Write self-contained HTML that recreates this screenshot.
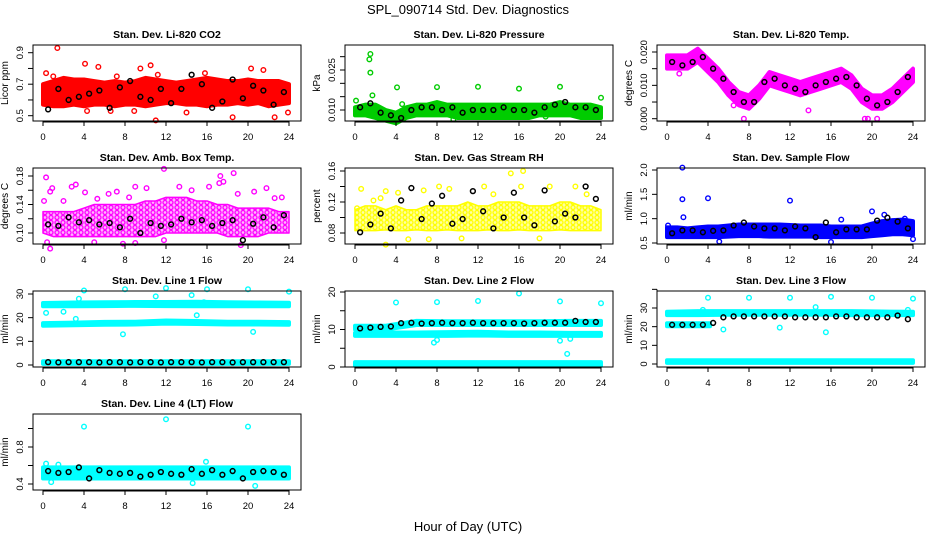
<!DOCTYPE html>
<html><head><meta charset="utf-8"><style>
html,body{margin:0;padding:0;background:#fff;}
svg{display:block;font-family:"Liberation Sans",sans-serif;}
</style></head><body>
<svg id="chart" width="936" height="540" viewBox="0 0 936 540" xmlns="http://www.w3.org/2000/svg">
<defs>
<pattern id="pat-mag" patternUnits="userSpaceOnUse" width="6" height="5"><rect width="6" height="5" fill="#ffb3ff"/><circle cx="3" cy="2.5" r="2" fill="none" stroke="#ff00ff" stroke-width="1.3"/></pattern>
<pattern id="pat-yel" patternUnits="userSpaceOnUse" width="6" height="5"><rect width="6" height="5" fill="#ffffa0"/><circle cx="3" cy="2.5" r="2" fill="none" stroke="#ffff00" stroke-width="1.3"/></pattern>
</defs>
<text x="468" y="14" font-size="13" text-anchor="middle">SPL_090714  Std. Dev. Diagnostics</text>
<text x="468" y="531" font-size="13" text-anchor="middle">Hour of Day (UTC)</text>
</svg>
<script>
// shared hour grids
const HRS = [0,1,2,3,4,5,6,7,8,9,10,11,12,13,14,15,16,17,18,19,20,21,22,23,24];
const H9 = [0,3,6,9,12,15,18,21,24];
const BX = [0.5,1.5,2.5,3.5,4.5,5.5,6.5,7.5,8.5,9.5,10.5,11.5,12.5,13.5,14.5,15.5,16.5,17.5,18.5,19.5,20.5,21.5,22.5,23.5];
const XTICKS = [0,4,8,12,16,20,24];

// CO2
const co2Lo = [0.57,0.56,0.56,0.57,0.56,0.57,0.57,0.56,0.57,0.57,0.56,0.57,0.58,0.58,0.57,0.57,0.56,0.57,0.57,0.58,0.57,0.58,0.56,0.57,0.58];
const co2Hi = [0.70,0.72,0.74,0.73,0.73,0.72,0.71,0.72,0.71,0.72,0.74,0.73,0.72,0.71,0.72,0.73,0.74,0.73,0.72,0.72,0.73,0.72,0.72,0.72,0.70];
const co2Out = [[1.4,0.93],[4.1,0.83],[5.4,0.81],[11,0.47],[9.5,0.80],[10.5,0.82],[21.5,0.79],[22.6,0.49],[18.5,0.49],[14,0.52],[20.3,0.80],[0.3,0.77],[23.9,0.52],[4.3,0.53],[8.9,0.53],[6.6,0.53],[7.2,0.75],[1,0.75],[15.8,0.77],[11.2,0.76]];
const co2Black = [0.54,0.67,0.60,0.62,0.64,0.66,0.55,0.68,0.72,0.62,0.60,0.67,0.58,0.67,0.76,0.70,0.55,0.59,0.73,0.61,0.69,0.66,0.57,0.65];
// Pressure
const presLo = [0.008,0.008,0.007,0.006,0.005,0.007,0.008,0.008,0.008,0.008,0.007,0.007,0.007,0.007,0.007,0.007,0.007,0.007,0.008,0.008,0.008,0.008,0.007,0.007,0.007];
const presHi = [0.011,0.012,0.012,0.010,0.009,0.011,0.012,0.012,0.013,0.012,0.012,0.012,0.012,0.012,0.012,0.012,0.012,0.012,0.012,0.012,0.013,0.012,0.012,0.012,0.011];
const presOut = [[1.5,0.031],[1.4,0.029],[1.5,0.024],[1.7,0.0155],[0.1,0.0135],[4.1,0.0185],[8,0.0186],[12,0.0187],[16,0.018],[20,0.0187],[24,0.0146],[4.6,0.0122],[9.6,0.0065],[18.6,0.0075]];
const presBlack = [0.011,0.0125,0.009,0.008,0.007,0.010,0.011,0.011,0.010,0.011,0.009,0.010,0.010,0.010,0.011,0.010,0.010,0.009,0.011,0.012,0.013,0.011,0.011,0.010];
// Li-820 temp
const tempLo = [0.015,0.015,0.015,0.017,0.014,0.011,0.007,0.004,0.003,0.006,0.010,0.009,0.008,0.007,0.008,0.009,0.010,0.011,0.009,0.005,0.003,0.003,0.005,0.008,0.011];
const tempHi = [0.019,0.019,0.019,0.021,0.018,0.015,0.011,0.008,0.007,0.010,0.014,0.013,0.012,0.011,0.012,0.013,0.014,0.015,0.013,0.009,0.007,0.007,0.009,0.012,0.015];
const tempOut = [[7.5,0],[13.8,0.0025],[19.3,0],[19.6,0],[20.5,0],[1.2,0.0135],[6.5,0.004]];
const tempBlack = [0.017,0.016,0.017,0.0185,0.015,0.012,0.008,0.005,0.005,0.011,0.012,0.010,0.009,0.008,0.010,0.011,0.012,0.0125,0.010,0.006,0.004,0.005,0.008,0.0125];
// Amb box temp
const ambLo = [0.100,0.095,0.095,0.095,0.095,0.095,0.095,0.095,0.095,0.095,0.095,0.095,0.100,0.100,0.100,0.100,0.100,0.100,0.095,0.095,0.095,0.095,0.100,0.100,0.100];
const ambHi = [0.130,0.130,0.130,0.130,0.135,0.140,0.140,0.140,0.140,0.140,0.145,0.145,0.150,0.150,0.150,0.145,0.145,0.140,0.140,0.135,0.135,0.135,0.135,0.130,0.130];
const ambOut = [[0.3,0.178],[0.1,0.145],[0.7,0.158],[0.9,0.163],[2.8,0.165],[3.2,0.168],[4.1,0.157],[8.4,0.15],[9,0.165],[11.8,0.19],[13.3,0.165],[16.2,0.165],[17.2,0.17],[17.6,0.172],[18.6,0.184],[17.3,0.18],[19,0.155],[21.8,0.163],[22.6,0.149],[0.4,0.087],[5,0.087],[7.8,0.085],[9,0.086],[19.3,0.083],[11.8,0.09],[0.7,0.078],[2,0.145],[5.3,0.148],[6.4,0.155],[7.2,0.158],[10.1,0.163],[14.5,0.16],[20.6,0.158],[23.3,0.15]];
const ambBlack = [0.112,0.110,0.122,0.115,0.118,0.112,0.114,0.108,0.120,0.100,0.114,0.110,0.112,0.120,0.115,0.118,0.110,0.114,0.118,0.090,0.113,0.122,0.108,0.125];
// Gas stream RH
const rhLo = [0.083,0.083,0.083,0.084,0.083,0.083,0.084,0.083,0.083,0.084,0.083,0.083,0.083,0.084,0.083,0.083,0.084,0.083,0.083,0.083,0.084,0.083,0.083,0.083,0.083];
const rhHi = [0.110,0.115,0.115,0.110,0.115,0.110,0.110,0.115,0.115,0.115,0.115,0.120,0.115,0.115,0.120,0.120,0.120,0.115,0.115,0.115,0.120,0.120,0.115,0.115,0.110];
const rhOut = [[0.2,0.112],[0.6,0.137],[3,0.065],[5.2,0.072],[8.2,0.14],[9.2,0.137],[12.6,0.14],[15.2,0.157],[16.4,0.16],[16.2,0.14],[19,0.14],[21.5,0.14],[22.6,0.13],[6.7,0.135],[3,0.134],[18,0.073],[10.4,0.073],[1.8,0.122],[2.5,0.125],[7.2,0.072],[13.5,0.13],[4.2,0.132]];
const rhBlack = [0.081,0.091,0.105,0.086,0.122,0.138,0.098,0.118,0.128,0.092,0.098,0.134,0.108,0.086,0.100,0.132,0.100,0.090,0.135,0.095,0.105,0.100,0.140,0.124];
// Sample flow
const flowLo = [0.62,0.62,0.62,0.62,0.62,0.62,0.63,0.64,0.64,0.64,0.63,0.63,0.63,0.63,0.63,0.62,0.62,0.62,0.62,0.62,0.64,0.66,0.68,0.68,0.66];
const flowHi = [0.82,0.82,0.80,0.82,0.84,0.84,0.86,0.88,0.88,0.88,0.88,0.88,0.87,0.86,0.86,0.86,0.84,0.84,0.84,0.84,0.90,0.95,0.97,0.98,0.95];
const flowOut = [[1.5,2.05],[1.5,1.4],[4,1.42],[12,1.37],[1.6,1.03],[20,1.15],[21.2,1.08],[17,0.98],[23.2,1.0],[24,0.58],[5.1,0.53],[16,0.52],[0.1,0.86]];
const flowBlack = [0.70,0.76,0.76,0.72,0.75,0.76,0.86,0.92,0.84,0.80,0.80,0.76,0.84,0.80,0.62,0.92,0.72,0.78,0.78,0.78,0.96,1.02,0.94,0.80];
// Line 1 flow
const l1aLo = [24.8,24.8,24.9,25.0,24.9,24.8,24.8,24.8,24.8];
const l1aHi = [26.2,26.4,26.5,26.6,26.6,26.7,26.5,26.4,26.3];
const l1bLo = [16.6,16.8,17.0,17.1,17.5,17.3,17.1,17.1,17.0];
const l1bHi = [17.7,17.9,18.2,18.3,18.8,18.6,18.3,18.3,18.1];
const l1cLo = [0.5,0.5,0.5,0.5,0.5,0.5,0.5,0.5,0.5];
const l1cHi = [1.6,1.6,1.6,1.6,1.6,1.6,1.6,1.6,1.6];
const l1Out = [[4,31.5],[8,32],[12,32.5],[16,32],[20,32],[24,31],[7.8,13],[20.5,14],[3.2,19.5],[0.3,22],[11,29],[14.5,29.5],[15,21],[15.7,26.5],[2,22.5],[3.5,28]];
const l1Black = [1.2,1.1,1.2,1.2,1.2,1.1,1.2,1.2,1.1,1.2,1.2,1.1,1.2,1.2,1.2,1.1,1.2,1.2,1.1,1.2,1.2,1.2,1.2,1.2];
// Line 2 flow
const l2aLo = [10.0,10.0,11.2,11.2,11.2,11.2,11.2,11.2,11.2];
const l2aHi = [11.0,11.0,12.3,12.2,12.2,12.2,12.2,12.3,12.3];
const l2bLo = [8.3,8.3,8.3,8.3,8.4,8.3,8.3,8.3,8.3];
const l2bHi = [9.1,9.2,9.2,9.3,9.4,9.2,9.2,9.1,9.1];
const l2cLo = [0.3,0.3,0.3,0.3,0.3,0.3,0.3,0.3,0.3];
const l2cHi = [1.3,1.3,1.3,1.3,1.3,1.3,1.3,1.3,1.3];
const l2Out = [[4,17.2],[8,17.3],[12,17.6],[16,19.6],[20,17.5],[24,17],[7.7,6.5],[20,7],[20.7,3.5],[21,7.5],[8,7.2]];
const l2Black = [10.3,10.5,10.7,10.8,11.7,11.8,11.6,11.7,11.8,11.7,11.7,11.8,11.7,11.7,11.7,11.7,11.6,11.7,11.8,11.8,11.8,12.3,12.0,12.0];
// Line 3 flow
const l3H = [0,4.2];
const l3aLo = [26.2,26.2,26.4,26.4,26.4,26.4,26.2,26.2,26.2];
const l3aHi = [28.0,28.3,28.3,28.3,28.3,28.3,28.3,28.1,28.0];
const l3bLo = [20.2,20.2];
const l3bHi = [21.8,21.8];
const l3cLo = [0.6,0.6,0.6,0.6,0.6,0.6,0.6,0.6,0.6];
const l3cHi = [2.0,2.0,2.0,2.0,2.0,2.0,2.0,2.0,2.0];
const l3Out = [[4,35.5],[8,35.5],[12,35.5],[16,36],[20,35.5],[24,35],[15.5,17],[11,19.5],[5.5,18.5],[3.5,29],[14.5,30.5],[23.5,29]];
const l3Black = [21,21,21,21,22,25,25.5,25.5,25.5,25.5,25.5,25.5,25,25,25,25,25.5,25.5,25,25,25,25,26,24];
// Line 4 flow
const l4Lo = [0.46,0.46,0.46,0.46,0.46,0.46,0.46,0.46,0.46];
const l4Hi = [0.58,0.58,0.58,0.58,0.58,0.58,0.58,0.58,0.58];
const l4Out = [[4,1.02],[12,1.10],[20,1.02],[20.7,0.38],[0.8,0.42],[14.6,0.41],[15.9,0.64],[0.3,0.62],[1.5,0.61]];
const l4Black = [0.54,0.52,0.53,0.58,0.46,0.55,0.52,0.51,0.52,0.48,0.50,0.53,0.51,0.50,0.56,0.51,0.55,0.50,0.54,0.46,0.53,0.54,0.53,0.50];

const panels = [
 {id:'co2',title:'Stan. Dev. Li-820 CO2',ylab:'Licor ppm',col:'#ff0000',r:0,c:0,ref:[0.5,115.7,0.9,52.7],ticks:[0.5,0.6,0.7,0.8,0.9],labs:[0.5,0.7,0.9],fmt:1,bands:[[HRS,co2Lo,co2Hi]],out:co2Out,black:co2Black,fill:null},
 {id:'pressure',title:'Stan. Dev. Li-820 Pressure',ylab:'kPa',col:'#00cc00',r:0,c:1,ref:[0.010,110,0.025,70],ticks:[0.010,0.015,0.020,0.025,0.030],labs:[0.010,0.025],fmt:3,bands:[[HRS,presLo,presHi]],out:presOut,black:presBlack,fill:null},
 {id:'li820-temp',title:'Stan. Dev. Li-820 Temp.',ylab:'degrees C',col:'#ff00ff',r:0,c:2,ref:[0,118.7,0.020,52],ticks:[0,0.005,0.010,0.015,0.020],labs:[0,0.010,0.020],fmt:3,bands:[[HRS,tempLo,tempHi]],out:tempOut,black:tempBlack,fill:null},
 {id:'amb-temp',title:'Stan. Dev. Amb. Box Temp.',ylab:'degrees C',col:'#ff00ff',r:1,c:0,ref:[0.10,233,0.18,176],ticks:[0.10,0.12,0.14,0.16,0.18],labs:[0.10,0.14,0.18],fmt:2,bands:[[HRS,ambLo,ambHi]],out:ambOut,black:ambBlack,fill:'url(#pat-mag)'},
 {id:'rh',title:'Stan. Dev. Gas Stream RH',ylab:'percent',col:'#ffff00',r:1,c:1,ref:[0.08,233,0.16,171],ticks:[0.08,0.10,0.12,0.14,0.16],labs:[0.08,0.12,0.16],fmt:2,bands:[[HRS,rhLo,rhHi]],out:rhOut,black:rhBlack,fill:'url(#pat-yel)'},
 {id:'sample-flow',title:'Stan. Dev. Sample Flow',ylab:'ml/min',col:'#0000ff',r:1,c:2,ref:[0.5,243,2.0,170],ticks:[0.5,1.0,1.5,2.0],labs:[0.5,1.0,1.5,2.0],fmt:1,bands:[[HRS,flowLo,flowHi]],out:flowOut,black:flowBlack,fill:null},
 {id:'line1',title:'Stan. Dev. Line 1 Flow',ylab:'ml/min',col:'#00ffff',r:2,c:0,ref:[0,365,30,294],ticks:[0,10,20,30],labs:[0,10,20,30],fmt:0,bands:[[H9,l1aLo,l1aHi],[H9,l1bLo,l1bHi],[H9,l1cLo,l1cHi]],out:l1Out,black:l1Black,fill:null},
 {id:'line2',title:'Stan. Dev. Line 2 Flow',ylab:'ml/min',col:'#00ffff',r:2,c:1,ref:[0,367,20,292],ticks:[0,5,10,15,20],labs:[0,10,20],fmt:0,bands:[[H9,l2aLo,l2aHi],[H9,l2bLo,l2bHi],[H9,l2cLo,l2cHi]],out:l2Out,black:l2Black,fill:null},
 {id:'line3',title:'Stan. Dev. Line 3 Flow',ylab:'ml/min',col:'#00ffff',r:2,c:2,ref:[0,364,30,308],ticks:[0,10,20,30,40],labs:[0,10,20,30],fmt:0,bands:[[H9,l3aLo,l3aHi],[l3H,l3bLo,l3bHi],[H9,l3cLo,l3cHi]],out:l3Out,black:l3Black,fill:null},
 {id:'line4',title:'Stan. Dev. Line 4 (LT) Flow',ylab:'ml/min',col:'#00ffff',r:3,c:0,ref:[0.4,484,0.8,447],ticks:[0.4,0.6,0.8,1.0],labs:[0.4,0.8],fmt:1,bands:[[H9,l4Lo,l4Hi]],out:l4Out,black:l4Black,fill:null}
];

const svg = document.getElementById('chart');
const NS = 'http://www.w3.org/2000/svg';
function mk(tag, attrs, parent){
  const e = document.createElementNS(NS, tag);
  for (const k in attrs) e.setAttribute(k, attrs[k]);
  (parent||svg).appendChild(e);
  return e;
}

panels.forEach(p => {
  const g = mk('g', {});
  
  
  const x0 = 43 + p.c*312;
  const top = 45 + p.r*123, bot = 121 + p.r*123;
  const left = x0 - 10, right = x0 + 258;
  const xs = h => x0 + h*246/24;
  const [v1,p1,v2,p2] = p.ref;
  const ys = v => p1 + (v - v1)*(p2 - p1)/(v2 - v1);

  p.bands.forEach((b, bi) => {
    const [hx, lo, hi] = b;
    let pts = hx.map((h,i) => xs(h)+','+ys(hi[i]));
    pts = pts.concat(hx.map((h,i) => xs(h)+','+ys(lo[i])).reverse());
    const poly = mk('polygon', {points: pts.join(' '), fill: p.fill || p.col, stroke: p.col, 'stroke-width': p.fill ? 1.5 : 4, 'stroke-linejoin': 'round'}, g);
    
    
  });
  p.out.forEach(o => {
    const c = mk('circle', {cx: xs(o[0]), cy: ys(o[1]), r: 2.3, fill: 'none', stroke: p.col, 'stroke-width': 1.4}, g);
    
    
  });
  p.black.forEach((v, i) => {
    const c = mk('circle', {cx: xs(BX[i]), cy: ys(v), r: 2.4, fill: 'none', stroke: '#000', 'stroke-width': 1.5}, g);
    
    
  });
  const box = mk('rect', {x: left, y: top, width: right-left, height: bot-top, fill: 'none', stroke: '#000', 'stroke-width': 1}, g);
  
  
  const t = mk('text', {x: (left+right)/2, y: top-7, 'font-size': 10.5, 'font-weight': 'bold', 'text-anchor': 'middle'}, g);
  t.textContent = p.title;
  
  
  mk('line', {x1: xs(0), x2: xs(24), y1: bot+1, y2: bot+1, stroke: '#000'}, g);
  XTICKS.forEach(h => {
    mk('line', {x1: xs(h), x2: xs(h), y1: bot, y2: bot+5, stroke: '#000'}, g);
    const tl = mk('text', {x: xs(h), y: bot+19, 'font-size': 9.5, 'text-anchor': 'middle'}, g);
    tl.textContent = h;
    
    
  });
  const yt0 = ys(p.ticks[0]), yt1 = ys(p.ticks[p.ticks.length-1]);
  mk('line', {x1: left, x2: left, y1: yt0, y2: yt1, stroke: '#000'}, g);
  p.ticks.forEach(v => {
    mk('line', {x1: left-5, x2: left, y1: ys(v), y2: ys(v), stroke: '#000'}, g);
  });
  p.labs.forEach(v => {
    const lx = left-10, ly = ys(v);
    const tl = mk('text', {x: lx, y: ly, 'font-size': 9.5, 'text-anchor': 'middle', transform: 'rotate(-90 '+lx+' '+ly+')'}, g);
    tl.textContent = v.toFixed(p.fmt);
    
    
  });
  const ax = left-25, ay = (top+bot)/2;
  const yl = mk('text', {x: ax, y: ay, 'font-size': 10, 'text-anchor': 'middle', transform: 'rotate(-90 '+ax+' '+ay+')'}, g);
  yl.textContent = p.ylab;
  
  
});
</script>
</body></html>
